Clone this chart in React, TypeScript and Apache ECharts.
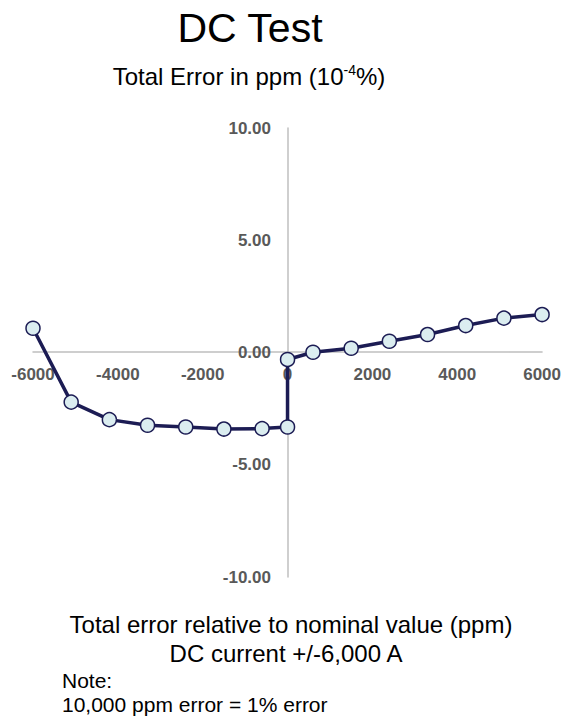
import React, { useEffect, useRef } from "react";
import * as echarts from "echarts";

const currents = [-6000, -5100, -4200, -3300, -2400, -1500, -600, 0, 0, 600, 1500, 2400, 3300, 4200, 5100, 6000];
const errors = [1.08, -2.21, -2.99, -3.24, -3.32, -3.41, -3.39, -3.32, -0.31, 0.01, 0.19, 0.5, 0.8, 1.2, 1.53, 1.69];

const FONT = "'Liberation Sans', Arial, sans-serif";

export default function App() {
  const ref = useRef<HTMLDivElement>(null);
  useEffect(() => {
    if (!ref.current) return;
    const chart = echarts.init(ref.current, null, { renderer: "svg" });
    const data = currents.map((c, i) => [c, errors[i]]);
    chart.setOption({
      animation: false,
      backgroundColor: "#ffffff",
      textStyle: { fontFamily: FONT },
      graphic: [
        { type: "text", x: 250, y: 28, style: { text: "DC Test", fontSize: 41, fontFamily: FONT, fill: "#000", align: "center", verticalAlign: "middle" } },
        {
          type: "text",
          x: 249,
          y: 76,
          style: {
            text: "{a|Total Error in ppm (10}{s|-4}{a|%)}",
            align: "center",
            verticalAlign: "middle",
            fontFamily: FONT,
            rich: {
              a: { fontSize: 24, fill: "#000", fontFamily: FONT, lineHeight: 29 },
              s: { fontSize: 14, fill: "#000", fontFamily: FONT, lineHeight: 29, padding: [0, 0, 12, 0] },
            },
          },
        },
        { type: "text", x: 291, y: 624, style: { text: "Total error relative to nominal value (ppm)", fontSize: 24, fontFamily: FONT, fill: "#000", align: "center", verticalAlign: "middle" } },
        { type: "text", x: 286, y: 653, style: { text: "DC current +/-6,000 A", fontSize: 24, fontFamily: FONT, fill: "#000", align: "center", verticalAlign: "middle" } },
        { type: "text", x: 62, y: 680, style: { text: "Note:", fontSize: 21, fontFamily: FONT, fill: "#000", verticalAlign: "middle" } },
        { type: "text", x: 62, y: 704, style: { text: "10,000 ppm error = 1% error", fontSize: 21, fontFamily: FONT, fill: "#000", verticalAlign: "middle" } },
      ],
      grid: { left: 33, top: 128, width: 510, height: 449, containLabel: false },
      xAxis: {
        type: "value",
        min: -6000,
        max: 6000,
        interval: 2000,
        offset: -225,
        axisLine: { onZero: false, lineStyle: { color: "#bfbfbf", width: 1.5 } },
        axisTick: { show: false },
        splitLine: { show: false },
        axisLabel: {
          margin: 14,
          fontSize: 17,
          fontWeight: "bold",
          color: "#595959",
          fontFamily: FONT,
          showMinLabel: true,
          showMaxLabel: true,
          formatter: (v: number) => String(v),
        },
      },
      yAxis: {
        type: "value",
        min: -10,
        max: 10,
        interval: 5,
        offset: -255,
        axisLine: { show: true, onZero: false, lineStyle: { color: "#bfbfbf", width: 1.5 } },
        axisTick: { show: false },
        splitLine: { show: false },
        axisLabel: {
          margin: 17,
          fontSize: 17,
          fontWeight: "bold",
          color: "#595959",
          fontFamily: FONT,
          formatter: (v: number) => v.toFixed(2),
        },
      },
      series: [
        {
          type: "line",
          data,
          symbol: "circle",
          symbolSize: 14,
          lineStyle: { color: "#1c1c54", width: 3.5 },
          itemStyle: { color: "#dbedf0", borderColor: "#1c1c54", borderWidth: 1.5 },
        },
      ],
    });
    return () => chart.dispose();
  }, []);
  return <div ref={ref} style={{ position: "absolute", left: 0, top: 0, width: 564, height: 719 }} />;
}
